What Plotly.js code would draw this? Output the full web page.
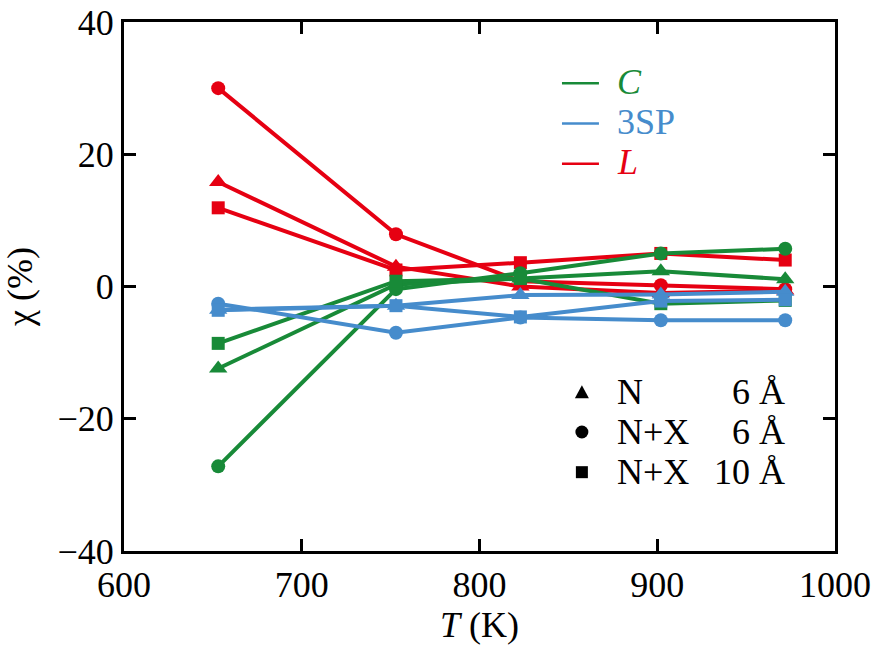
<!DOCTYPE html>
<html>
<head>
<meta charset="utf-8">
<script src="https://cdn.plot.ly/plotly-3.0.1.min.js"></script>
<style>
  html, body { margin: 0; padding: 0; background: #fff; }
  #chart { width: 871px; height: 662px; }
  #chart svg text { font-family: 'Liberation Serif', serif !important; }
</style>
</head>
<body>
<div id="chart"></div>
<script>
// Temperatures (K)
const temperatures = [653, 753, 823, 902, 972];

// chi (%) for each order parameter and fitting scheme
const L_N6    = [15.8, 3.0, 0.0, -1.0, -0.6];
const L_NX6   = [30.0, 7.9, 0.8, 0.2, -0.4];
const L_NX10  = [11.9, 2.5, 3.6, 5.0, 4.0];

const C_N6    = [-12.4, 0.3, 1.2, 2.3, 1.1];
const C_NX6   = [-27.2, -0.4, 2.0, 5.0, 5.7];
const C_NX10  = [-8.6, 0.8, 1.2, -2.6, -2.1];

const SP_N6   = [-3.5, -2.9, -1.3, -1.2, -0.8];
const SP_NX6  = [-2.6, -7.0, -4.7, -5.1, -5.1];
const SP_NX10 = [-3.6, -2.9, -4.6, -2.2, -2.0];

// Axis ticks
const xTicks = [600, 700, 800, 900, 1000];
const yTicks = [-40, -20, 0, 20, 40];

// Legend labels
const colorLabels = ['<i>C</i>', '3SP', '<i>L</i>'];
const fitLabels = ['N', 'N+X', 'N+X'];
const fitCutoffs = ['6 Å', '6 Å', '10 Å'];

const RED = '#e60012';
const GREEN = '#188a38';
const BLUE = '#468ccc';
const FONT = 'Liberation Serif';
const FS = 36;

function series(y, color, symbol, size) {
  return {
    x: temperatures, y: y, type: 'scatter', mode: 'lines+markers',
    line: { color: color, width: 4 },
    marker: { color: color, symbol: symbol, size: size },
    showlegend: false, hoverinfo: 'skip'
  };
}

const traces = [
  series(L_N6, RED, 'triangle-up', 16),
  series(L_NX6, RED, 'circle', 14),
  series(L_NX10, RED, 'square', 13),
  series(C_N6, GREEN, 'triangle-up', 16),
  series(C_NX6, GREEN, 'circle', 14),
  series(C_NX10, GREEN, 'square', 13),
  series(SP_N6, BLUE, 'triangle-up', 16),
  series(SP_NX6, BLUE, 'circle', 14),
  series(SP_NX10, BLUE, 'square', 13)
];

// Legend geometry (paper coordinates)
const colorRows = [0.887, 0.811, 0.735];
const colorLegendColors = [GREEN, BLUE, RED];
const fitRows = [0.300, 0.225, 0.149];

const annotations = [];
const shapes = [];

colorLabels.forEach((lab, i) => {
  annotations.push({
    xref: 'paper', yref: 'paper', x: 0.6906, y: colorRows[i],
    xanchor: 'left', yanchor: 'middle', showarrow: false,
    text: lab, font: { family: FONT, size: FS, color: colorLegendColors[i] }
  });
  shapes.push({
    type: 'line', xref: 'paper', yref: 'paper',
    x0: 0.616, x1: 0.668, y0: colorRows[i] - 0.003, y1: colorRows[i] - 0.003,
    line: { color: colorLegendColors[i], width: 2.5 }
  });
});

fitLabels.forEach((lab, i) => {
  annotations.push({
    xref: 'paper', yref: 'paper', x: 0.6906, y: fitRows[i],
    xanchor: 'left', yanchor: 'middle', showarrow: false,
    text: lab, font: { family: FONT, size: FS, color: '#000' }
  });
  annotations.push({
    xref: 'paper', yref: 'paper', x: 0.9325, y: fitRows[i],
    xanchor: 'right', yanchor: 'middle', showarrow: false,
    text: fitCutoffs[i], font: { family: FONT, size: FS, color: '#000' }
  });
});

// Legend marker glyphs: triangle, circle, square
const mx = 0.644;
shapes.push({
  type: 'path', xref: 'paper', yref: 'paper', xsizemode: 'pixel', ysizemode: 'pixel',
  xanchor: mx, yanchor: fitRows[0], path: 'M -7 -6 L 7 -6 L 0 7 Z',
  fillcolor: '#000', line: { width: 0 }
});
shapes.push({
  type: 'circle', xref: 'paper', yref: 'paper', xsizemode: 'pixel', ysizemode: 'pixel',
  xanchor: mx, yanchor: fitRows[1], x0: -6.5, x1: 6.5, y0: -6.5, y1: 6.5,
  fillcolor: '#000', line: { width: 0 }
});
shapes.push({
  type: 'rect', xref: 'paper', yref: 'paper', xsizemode: 'pixel', ysizemode: 'pixel',
  xanchor: mx, yanchor: fitRows[2], x0: -6, x1: 6, y0: -6, y1: 6,
  fillcolor: '#000', line: { width: 0 }
});

const axisCommon = {
  showline: true, linecolor: '#000', linewidth: 3, mirror: 'allticks',
  ticks: 'inside', ticklen: 12, tickwidth: 3, tickcolor: '#000',
  showgrid: false, zeroline: false, ticklabeloverflow: 'allow',
  tickfont: { family: FONT, size: FS, color: '#000' }
};

const layout = {
  width: 871, height: 662,
  margin: { l: 124, r: 36, t: 22, b: 111 },
  paper_bgcolor: '#fff', plot_bgcolor: '#fff',
  font: { family: FONT, size: FS, color: '#000' },
  showlegend: false,
  xaxis: Object.assign({}, axisCommon, {
    range: [600, 1000], tickmode: 'array', tickvals: xTicks,
    title: { text: '<i>T</i> (K)', font: { family: FONT, size: FS, color: '#000' }, standoff: 8 }
  }),
  yaxis: Object.assign({}, axisCommon, {
    range: [-40, 40], tickmode: 'array', tickvals: yTicks,
    title: { text: 'χ (%)', font: { family: FONT, size: FS, color: '#000' }, standoff: 14 }
  }),
  annotations: annotations,
  shapes: shapes
};

const config = { displayModeBar: false, staticPlot: true };

Plotly.newPlot('chart', traces, layout, config);

// Redraw once the serif faces are ready so text metrics use them
if (document.fonts && document.fonts.load) {
  Promise.all([
    document.fonts.load('36px "Liberation Serif"'),
    document.fonts.load('italic 36px "Liberation Serif"')
  ]).then(() => Plotly.react('chart', traces, layout, config));
}
</script>
</body>
</html>
